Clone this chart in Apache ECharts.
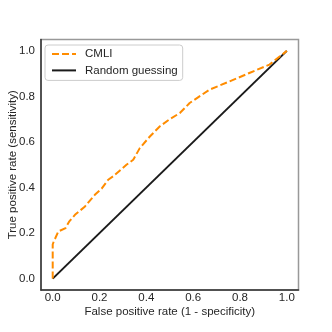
<!DOCTYPE html>
<html><head><meta charset="utf-8">
<script src="https://cdn.jsdelivr.net/npm/echarts@6/dist/echarts.min.js"></script>
<style>html,body{margin:0;padding:0;background:#fff}#c{width:332px;height:332px}</style>
</head><body><div id="c"></div>
<script>
var tickValues = [0, 0.2, 0.4, 0.6, 0.8, 1.0];
var cmliFpr = [0, 0, 0.005, 0.01, 0.024, 0.055, 0.07, 0.095, 0.138, 0.18, 0.209, 0.237, 0.258, 0.315, 0.344, 0.372, 0.415, 0.457, 0.5, 0.543, 0.585, 0.67, 0.756, 0.84, 0.926, 1.0];
var cmliTpr = [0, 0.15, 0.165, 0.175, 0.207, 0.222, 0.25, 0.28, 0.317, 0.368, 0.395, 0.434, 0.449, 0.5, 0.522, 0.573, 0.624, 0.668, 0.7, 0.727, 0.771, 0.83, 0.866, 0.903, 0.94, 1.0];
var randFpr = [0, 1];
var randTpr = [0, 1];

function pairs(xs, ys){ return xs.map(function(x,i){ return [x, ys[i]]; }); }
var FONT = "'Liberation Sans', Arial, sans-serif";
var chart = echarts.init(document.getElementById('c'), null, {renderer:'canvas'});
function axisCommon(name, gap){
  return {
    type: 'value', min: -0.05, max: 1.05,
    name: name, nameLocation: 'middle', nameGap: gap, nameMoveOverlap: false,
    nameTextStyle: {fontFamily: FONT, fontSize: 11.5, color: '#262626'},
    axisLine: {show: true, onZero: false, lineStyle: {color: '#333', width: 1.5}},
    axisTick: {show: false},
    splitLine: {show: false},
    axisLabel: {customValues: tickValues, fontFamily: FONT, fontSize: 11.5, color: '#262626',
      formatter: function(v){ return v.toFixed(1); }}
  };
}
var xa = axisCommon('False positive rate (1 - specificity)', 16); xa.axisLabel.margin = 2;
var ya = axisCommon('True positive rate (sensitivity)', 22.5); ya.axisLabel.margin = 6;
chart.setOption({
  animation: false,
  grid: {left: 41, right: 33.5, top: 39.5, bottom: 42, containLabel: false, outerBoundsMode: 'none',
         show: true, borderColor: '#999', borderWidth: 1.5},
  xAxis: xa, yAxis: ya,
  legend: {
    left: 45, top: 45, orient: 'vertical',
    itemWidth: 24, itemHeight: 12, itemGap: 4.4,
    padding: [3, 5, 4, 6],
    borderColor: '#ccc', borderWidth: 1, borderRadius: 3, backgroundColor: 'rgba(255,255,255,0.8)',
    itemStyle: {opacity: 0},
    textStyle: {fontFamily: FONT, fontSize: 11.5, color: '#262626', padding: [0,0,0,4]},
    data: ['CMLI', 'Random guessing']
  },
  series: [
    {name: 'CMLI', type: 'line', data: pairs(cmliFpr, cmliTpr), symbol: 'none', z: 3,
     lineStyle: {color: '#ff8c00', width: 2, type: [7, 3]}, itemStyle: {color: '#ff8c00'}},
    {name: 'Random guessing', type: 'line', data: pairs(randFpr, randTpr), symbol: 'none', z: 2,
     lineStyle: {color: '#1a1a1a', width: 2}, itemStyle: {color: '#1a1a1a'}}
  ]
});
</script></body></html>
